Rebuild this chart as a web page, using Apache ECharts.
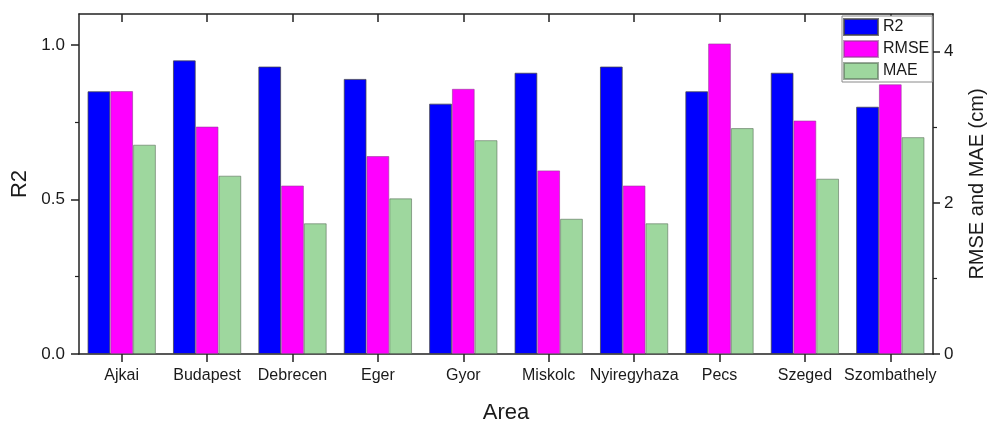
<!DOCTYPE html>
<html>
<head>
<meta charset="utf-8">
<title>R2, RMSE and MAE by area</title>
<script src="https://cdn.jsdelivr.net/npm/echarts@6/dist/echarts.min.js"></script>
<style>
  html, body { margin: 0; padding: 0; background: #ffffff; }
  #chart { width: 1000px; height: 429px; }
</style>
</head>
<body>
<div id="chart"></div>
<script>
// Areas on the category axis
const areas = ['Ajkai', 'Budapest', 'Debrecen', 'Eger', 'Gyor', 'Miskolc', 'Nyiregyhaza', 'Pecs', 'Szeged', 'Szombathely'];

// Coefficient of determination per area (left axis)
const r2 = [0.85, 0.95, 0.93, 0.89, 0.81, 0.91, 0.93, 0.85, 0.91, 0.80];

// Errors in cm per area (right axis)
const rmse = [3.48, 3.01, 2.23, 2.62, 3.51, 2.43, 2.23, 4.11, 3.09, 3.57];
const mae = [2.77, 2.36, 1.73, 2.06, 2.83, 1.79, 1.73, 2.99, 2.32, 2.87];

// Axis ranges and tick positions
const r2Range = [0, 1.1];
const r2Major = [0, 0.5, 1.0];
const r2Minor = [0.25, 0.75];
const errRange = [0, 4.5];
const errMajor = [0, 2, 4];
const errMinor = [1, 3];

// Category centres for the mirrored top frame ticks
const areaIndex = areas.map((_, i) => i);

const FONT = '"Liberation Sans", Arial, sans-serif';
const INK = '#1a1a1a';
const LINE = '#222222';

const chart = echarts.init(document.getElementById('chart'), null, { renderer: 'canvas' });

chart.setOption({
  animation: false,
  backgroundColor: '#ffffff',
  textStyle: { fontFamily: FONT, color: INK },
  grid: { left: 79, right: 67, top: 14, bottom: 67, containLabel: false },
  legend: {
    orient: 'vertical',
    left: 842,
    top: 16,
    itemWidth: 34,
    itemHeight: 16,
    itemGap: 4,
    padding: [2, 3, 2, 1],
    borderColor: '#8a8a8a',
    borderWidth: 1,
    backgroundColor: '#ffffff',
    icon: 'rect',
    textStyle: { fontFamily: FONT, fontSize: 16, color: INK },
    data: ['R2', 'RMSE', 'MAE']
  },
  xAxis: [
    {
      type: 'category',
      data: areas,
      position: 'bottom',
      name: 'Area',
      nameLocation: 'middle',
      nameGap: 48,
      nameTextStyle: { fontFamily: FONT, fontSize: 22, color: INK },
      axisLine: { show: true, onZero: false, lineStyle: { color: LINE, width: 1.5 } },
      axisTick: { show: true, interval: 0, alignWithLabel: true, inside: false, length: 8, lineStyle: { color: LINE, width: 1.5 } },
      axisLabel: { interval: 0, fontFamily: FONT, fontSize: 16, color: INK, margin: 14 },
      splitLine: { show: false }
    },
    {
      // mirrored frame edge along the top, ticks pointing inward at category centres
      type: 'value',
      position: 'top',
      min: -0.5,
      max: areas.length - 0.5,
      axisLine: { show: true, onZero: false, lineStyle: { color: LINE, width: 1.5 } },
      axisTick: { show: true, inside: true, length: 8, customValues: areaIndex, lineStyle: { color: LINE, width: 1.5 } },
      axisLabel: { show: false },
      splitLine: { show: false }
    }
  ],
  yAxis: [
    {
      type: 'value',
      position: 'left',
      min: r2Range[0],
      max: r2Range[1],
      name: 'R2',
      nameLocation: 'middle',
      nameGap: 42,
      nameTextStyle: { fontFamily: FONT, fontSize: 22, color: INK },
      axisLine: { show: true, onZero: false, lineStyle: { color: LINE, width: 1.5 } },
      axisTick: { show: true, length: 8, customValues: r2Major, lineStyle: { color: LINE, width: 1.5 } },
      axisLabel: {
        fontFamily: FONT, fontSize: 17, color: INK, margin: 14,
        customValues: r2Major,
        formatter: v => v.toFixed(1)
      },
      splitLine: { show: false }
    },
    {
      type: 'value',
      position: 'right',
      min: errRange[0],
      max: errRange[1],
      name: 'RMSE and MAE (cm)',
      nameLocation: 'middle',
      nameGap: 34,
      nameTextStyle: { fontFamily: FONT, fontSize: 20, color: INK },
      axisLine: { show: true, onZero: false, lineStyle: { color: LINE, width: 1.5 } },
      axisTick: { show: true, length: 7, customValues: errMajor, lineStyle: { color: LINE, width: 1.5 } },
      axisLabel: { fontFamily: FONT, fontSize: 17, color: INK, margin: 11, customValues: errMajor },
      splitLine: { show: false }
    },
    {
      // minor ticks on the left axis
      type: 'value',
      position: 'left',
      min: r2Range[0],
      max: r2Range[1],
      axisLine: { show: false, onZero: false },
      axisTick: { show: true, length: 4, customValues: r2Minor, lineStyle: { color: LINE, width: 1.2 } },
      axisLabel: { show: false },
      splitLine: { show: false }
    },
    {
      // minor ticks on the right axis
      type: 'value',
      position: 'right',
      min: errRange[0],
      max: errRange[1],
      axisLine: { show: false, onZero: false },
      axisTick: { show: true, length: 4, customValues: errMinor, lineStyle: { color: LINE, width: 1.2 } },
      axisLabel: { show: false },
      splitLine: { show: false }
    }
  ],
  series: [
    {
      name: 'R2',
      type: 'bar',
      xAxisIndex: 0,
      yAxisIndex: 0,
      data: r2,
      barGap: '0%',
      barCategoryGap: '20%',
      itemStyle: { color: '#0000ff', borderColor: 'rgba(70,70,70,0.75)', borderWidth: 1 }
    },
    {
      name: 'RMSE',
      type: 'bar',
      xAxisIndex: 0,
      yAxisIndex: 1,
      data: rmse,
      barGap: '0%',
      barCategoryGap: '20%',
      itemStyle: { color: '#ff00ff', borderColor: 'rgba(150,60,150,0.6)', borderWidth: 1 }
    },
    {
      name: 'MAE',
      type: 'bar',
      xAxisIndex: 0,
      yAxisIndex: 1,
      data: mae,
      barGap: '0%',
      barCategoryGap: '20%',
      itemStyle: { color: '#9ed79e', borderColor: 'rgba(90,110,90,0.6)', borderWidth: 1 }
    }
  ]
});
</script>
</body>
</html>
